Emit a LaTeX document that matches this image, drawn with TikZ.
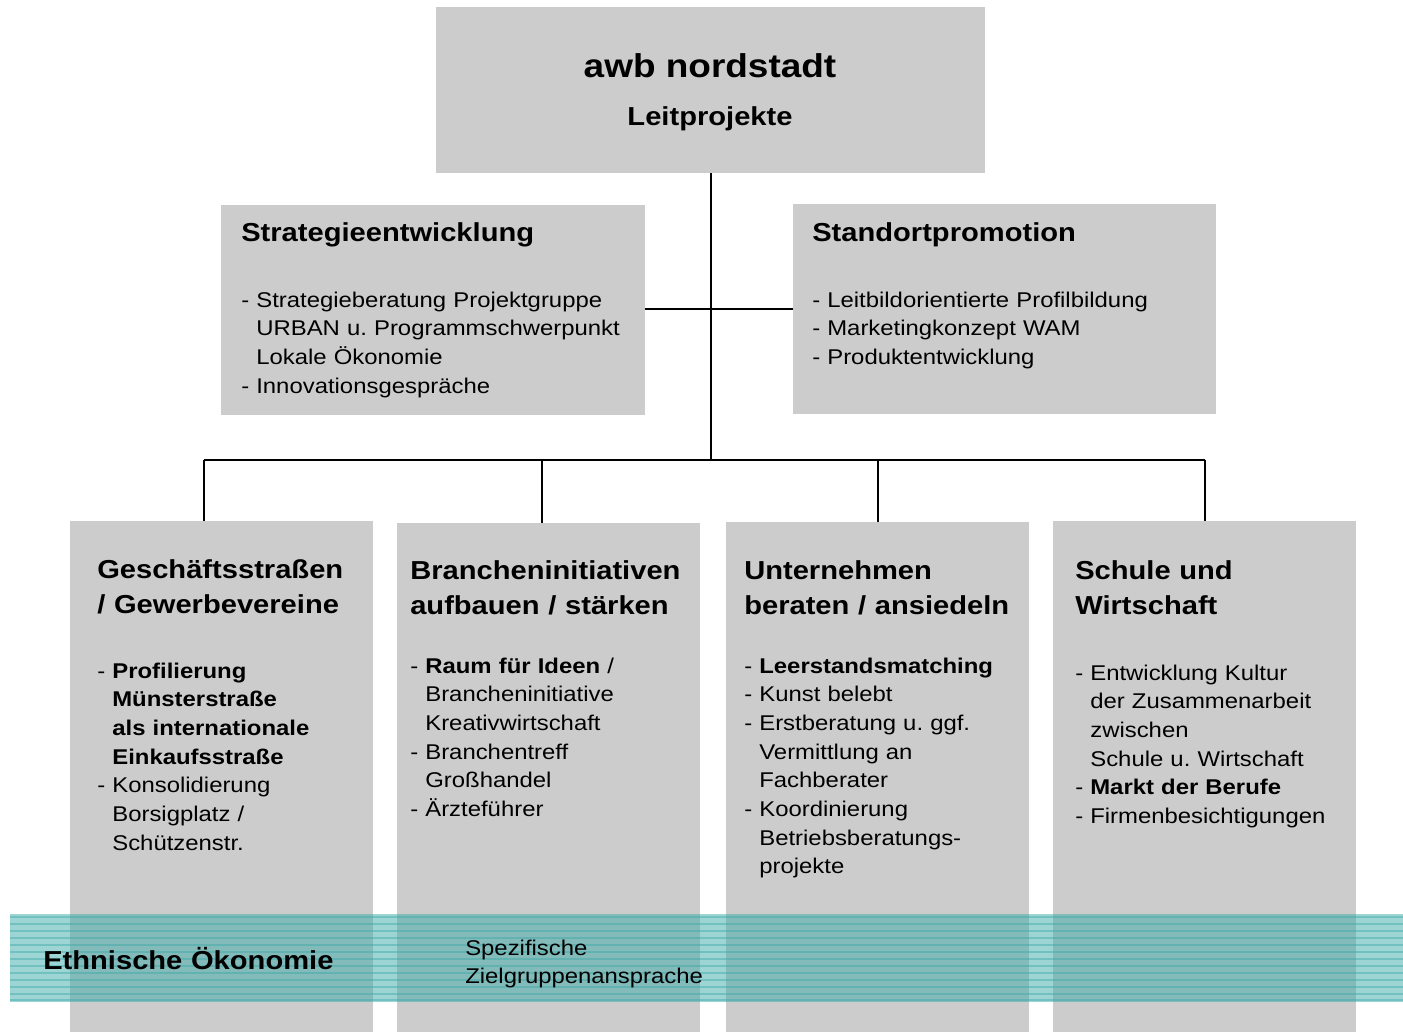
\documentclass[tikz,border=0pt]{standalone}
\usepackage{fontspec}
\setmainfont[FakeStretch=1.12]{Liberation Sans}
\usetikzlibrary{fit}
\definecolor{boxgray}{RGB}{204,204,204}
\definecolor{bandteal}{RGB}{60,170,170}
\newcommand{\ind}{\phantom{- }}
\frenchspacing
\tikzset{
  box/.style={fill=boxgray, inner sep=0pt},
  head/.style={font=\bfseries\fontsize{19.5}{26.5}\selectfont, anchor=base west, align=left, text width=420pt, inner sep=0pt},
  item/.style={font=\fontsize{16}{21.5}\selectfont, anchor=base west, align=left, text width=420pt, inner sep=0pt},
  link/.style={line width=1.5pt},
}
\begin{document}
\begin{tikzpicture}[x=0.75pt, y=-0.75pt]
\useasboundingbox (0,0) rectangle (1403,1032);
% boxes
\node[box, fit={(436,7) (985,173)}] (top) {};
\node[box, fit={(221,205) (645,415)}] (strat) {};
\node[box, fit={(793,204) (1216,414)}] (stand) {};
\node[box, fit={(70,521) (373,1032)}] (geschaeft) {};
\node[box, fit={(397,523) (700,1032)}] (branche) {};
\node[box, fit={(726,522) (1029,1032)}] (unternehmen) {};
\node[box, fit={(1053,521) (1356,1032)}] (schule) {};
% connectors
\coordinate (hub) at (711,460);
\coordinate (cross) at (711,309);
\coordinate (j1) at (204,460);
\coordinate (j2) at (542,460);
\coordinate (j3) at (878,460);
\coordinate (j4) at (1205,460);
\draw[link] (top.south -| hub) -- (hub);
\draw[link] (cross -| strat.east) -- (cross -| stand.west);
\draw[link] (j1) -- (j4);
\draw[link] (j1) -- (j1 |- geschaeft.north);
\draw[link] (j2) -- (j2 |- branche.north);
\draw[link] (j3) -- (j3 |- unternehmen.north);
\draw[link] (j4) -- (j4 |- schule.north);
% top
\node[font=\bfseries\fontsize{24.75}{30}\selectfont, anchor=base, inner sep=0pt] (awb) at (710,77) {awb nordstadt};
\node[font=\bfseries\fontsize{19.5}{24}\selectfont, anchor=base, inner sep=0pt] (leit) at (710,125) {Leitprojekte};
% middle row
\node[head] (strathead) at (241,241) {Strategieentwicklung};
\node[item] (stratlist) at (241,307) {- Strategieberatung Projektgruppe\\
\ind URBAN u. Programmschwerpunkt\\
\ind Lokale Ökonomie\\
- Innovationsgespräche};
\node[head] (standhead) at (812,241) {Standortpromotion};
\node[item] (standlist) at (812,307) {- Leitbildorientierte Profilbildung\\
- Marketingkonzept WAM\\
- Produktentwicklung};
% bottom row
\node[head] (geschaefthead) at (97,578) {Geschäftsstraßen\\ / Gewerbevereine};
\node[item] (geschaeftlist) at (97,678) {- \textbf{Profilierung}\\
\ind\textbf{Münsterstraße}\\
\ind\textbf{als internationale}\\
\ind\textbf{Einkaufsstraße}\\
- Konsolidierung\\
\ind Borsigplatz /\\
\ind Schützenstr.};
\node[head] (branchehead) at (410,579) {Brancheninitiativen\\ aufbauen / stärken};
\node[item] (branchelist) at (410,673) {- \textbf{Raum für Ideen} /\\
\ind Brancheninitiative\\
\ind Kreativwirtschaft\\
- Branchentreff\\
\ind Großhandel\\
- Ärzteführer};
\node[head] (unternehmenhead) at (744,579) {Unternehmen\\ beraten / ansiedeln};
\node[item] (unternehmenlist) at (744,673) {- \textbf{Leerstandsmatching}\\
- Kunst belebt\\
- Erstberatung u. ggf.\\
\ind Vermittlung an\\
\ind Fachberater\\
- Koordinierung\\
\ind Betriebsberatungs-\\
\ind projekte};
\node[head] (schulehead) at (1075,579) {Schule und\\ Wirtschaft};
\node[item] (schulelist) at (1075,680) {- Entwicklung Kultur\\
\ind der Zusammenarbeit\\
\ind zwischen\\
\ind Schule u. Wirtschaft\\
- \textbf{Markt der Berufe}\\
- Firmenbesichtigungen};
% band
\fill[bandteal, opacity=0.5] (10,914) rectangle (1403,1002);
\foreach \y in {917,924,931,938,945,952,959,966,973,980,987,994,1000}
  \draw[bandteal, opacity=0.45, line width=0.9pt] (10,\y) -- (1403,\y);
\node[head] (ethnisch) at (43,969) {Ethnische Ökonomie};
\node[item] (ziel) at (465,955) {Spezifische\\ Zielgruppenansprache};
\end{tikzpicture}
\end{document}
